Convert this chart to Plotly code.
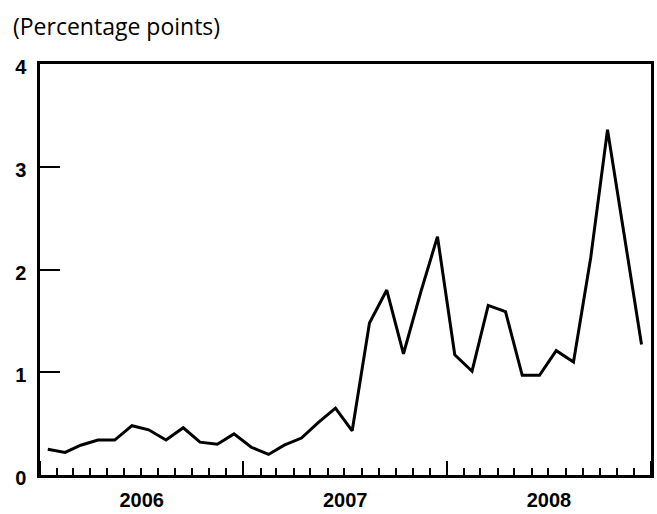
import plotly.graph_objects as go

years = [2006, 2007, 2008]
months = [f"{y}-{m:02d}-15" for y in years for m in range(1, 13)]

values_2006 = [0.25, 0.22, 0.29, 0.34, 0.34, 0.48, 0.44, 0.34, 0.46, 0.32, 0.30, 0.40]
values_2007 = [0.27, 0.20, 0.29, 0.36, 0.51, 0.65, 0.43, 1.48, 1.80, 1.18, 1.78, 2.32]
values_2008 = [1.17, 1.01, 1.65, 1.59, 0.97, 0.97, 1.21, 1.10, 2.12, 3.36, 2.30, 1.27]
values = values_2006 + values_2007 + values_2008

y_ticks = [0, 1, 2, 3, 4]

fig = go.Figure()
fig.add_trace(go.Scatter(
    x=months, y=values, mode="lines",
    line=dict(color="black", width=3),
    hoverinfo="skip", showlegend=False,
))

label_font = dict(family="Liberation Sans", size=20, color="black", weight="bold")

fig.update_layout(
    width=657, height=514,
    margin=dict(l=40, r=3, t=64, b=32),
    paper_bgcolor="white", plot_bgcolor="white",
    font=dict(family="Liberation Sans", color="black"),
    annotations=[dict(
        text="(Percentage points)", xref="paper", yref="paper",
        x=0, y=1, xshift=-29, yshift=38, xanchor="left", yanchor="middle",
        showarrow=False, font=dict(family="Open Sans", size=23, color="black"),
    )],
)

fig.update_xaxes(
    type="date",
    range=["2006-01-01", "2009-01-01"],
    tick0="2006-01-01", dtick="M12",
    ticklabelmode="period", tickformat="%Y",
    ticks="inside", ticklen=14, tickwidth=2, tickcolor="black",
    minor=dict(ticks="inside", dtick="M1", tick0="2006-01-01", ticklen=7, tickwidth=2, tickcolor="black"),
    showline=True, linecolor="black", linewidth=2.5, mirror=True,
    showgrid=False, zeroline=False,
    ticklabelstandoff=5,
    tickfont=label_font,
)

fig.update_yaxes(
    range=[0, 4],
    tickvals=y_ticks,
    ticks="inside", ticklen=20, tickwidth=2, tickcolor="black",
    showline=True, linecolor="black", linewidth=2.5, mirror=True,
    showgrid=False, zeroline=False,
    ticklabelstandoff=7,
    ticklabelshift=3,
    tickfont=label_font,
)

fig.write_html(
    "out.html",
    config={"displayModeBar": False},
    post_script="document.body.style.margin='0';",
)
